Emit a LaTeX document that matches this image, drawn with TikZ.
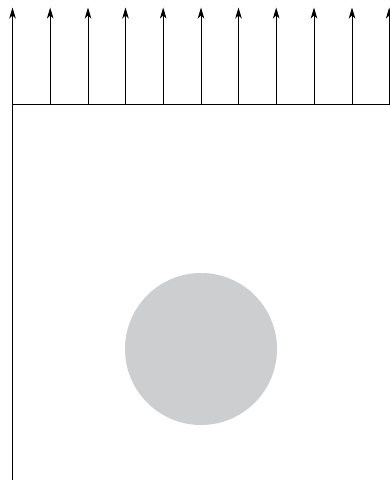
\documentclass[tikz,border=0pt]{standalone}
\usetikzlibrary{arrows.meta}
\begin{document}
\begin{tikzpicture}[x=1pt,y=-1pt,
  flowarrow/.style={line width=0.9pt,-{Stealth[length=11pt,width=6.5pt,inset=3pt]}},
  baseline/.style={line width=0.9pt},
  ball/.style={fill={rgb,255:red,205;green,206;blue,208},draw=none}]
\useasboundingbox (0,0) rectangle (389,480);
\coordinate (wallTop) at (12.5,104.5);
\coordinate (wallBot) at (12.5,480);
\coordinate (lineEnd) at (392,104.5);
\draw[baseline] (wallTop) -- (lineEnd);
\draw[baseline] (wallTop) -- (wallBot);
\foreach \i/\xx in {0/12.5,1/50.2,2/88,3/125.5,4/163.2,5/201,6/238.5,7/276.2,8/314,9/352,10/389.2}{
  \coordinate (b\i) at (\xx,104.5);
  \coordinate (t\i) at (\xx,7.5);
  \draw[flowarrow] (b\i) -- (t\i);
}
\node[ball,circle,minimum size=152pt,inner sep=0pt] (sphere) at (201,349) {};
\end{tikzpicture}
\end{document}
